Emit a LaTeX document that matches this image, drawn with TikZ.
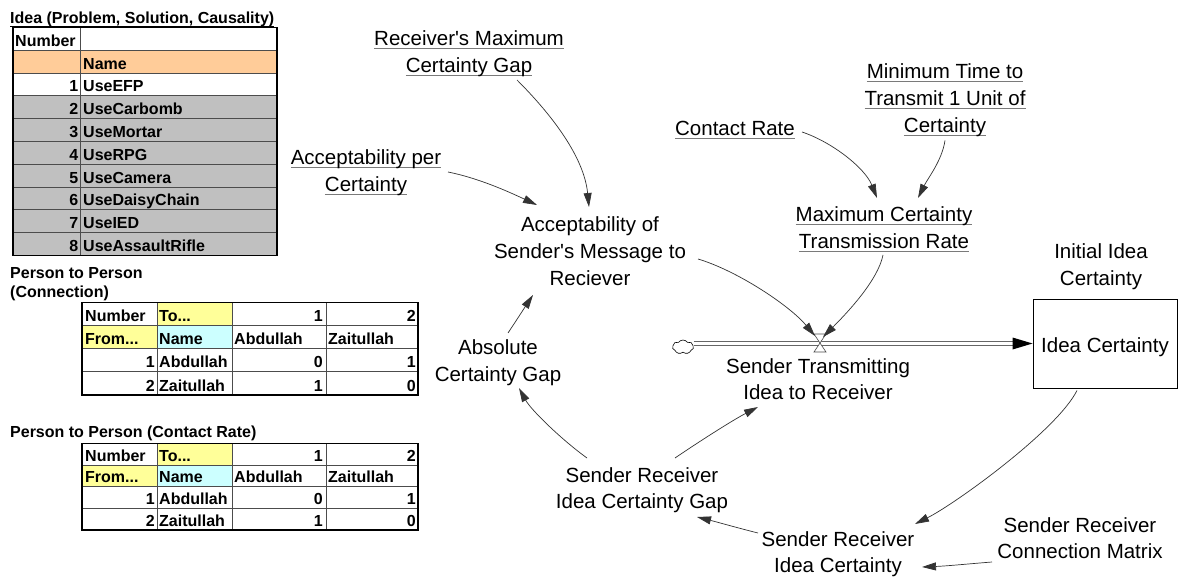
\documentclass[tikz,border=0pt]{standalone}
\usepackage{fontspec}
\setmainfont{Liberation Sans}[Ligatures=TeXOff]
\usetikzlibrary{arrows.meta,shapes.symbols}

\definecolor{hdrorange}{HTML}{FFCC99}
\definecolor{rowgray}{HTML}{C0C0C0}
\definecolor{celly}{HTML}{FFFF99}
\definecolor{cellc}{HTML}{CCFFFF}
\definecolor{ulgray}{HTML}{7A7A7A}

% text with a rule under it (colour, text)
\newcommand\ulinetext[2]{\setbox0\hbox{#2}\rlap{\color{#1}\rule[-3.5pt]{\wd0}{1pt}}\box0}
\newcommand\gul[1]{\ulinetext{ulgray}{#1}}

\tikzset{
  lbl/.style={font=\fontsize{20.5}{26.8}\selectfont, align=center, anchor=base, inner sep=0pt},
  tab/.style={font=\fontsize{16}{18}\selectfont\bfseries, inner sep=0pt, anchor=base west},
  tabr/.style={tab, anchor=base east},
  gridline/.style={draw=black!70, line width=1pt},
  frame/.style={draw=black, line width=1.6pt},
  link/.style={draw=black!80, line width=0.7pt, -{Triangle[length=14pt,width=8pt]}},
  pipe/.style={draw=black!60, line width=1.1pt, double=white, double distance=3.6pt},
  stock/.style={draw=black, line width=0.9pt, minimum width=144pt, minimum height=89pt,
    inner sep=0pt, text height=23pt, font=\fontsize{20.5}{26.8}\selectfont},
  valvestyle/.style={fill=white, draw=black!70, line width=0.6pt},
}

\begin{document}
\begin{tikzpicture}[x=1pt,y=-1pt]
\fill[white] (0,0) rectangle (1178,577);
\useasboundingbox (0,0) rectangle (1178,577);

% ---------- table: ideas ----------
\node[tab] (t1title) at (10,24) {\ulinetext{black}{Idea (Problem, Solution, Causality)}};
\fill[hdrorange] (12.7,50.3) rectangle (277,73.1);
\fill[rowgray] (12.7,95.9) rectangle (277,255.5);
\foreach \k in {1,...,9} \draw[gridline] (12.7,{27.5+22.8*\k}) -- (277,{27.5+22.8*\k});
\draw[gridline] (80,27.5) -- (80,255.5);
\draw[frame] (12.7,27.5) rectangle (277,255.5);
\node[tab] (t1num) at (15,46.3) {Number};
\node[tab] (t1name) at (83,69.1) {Name};
\foreach \i/\n in {1/UseEFP,2/UseCarbomb,3/UseMortar,4/UseRPG,5/UseCamera,6/UseDaisyChain,7/UseIED,8/UseAssaultRifle}{
  \node[tabr] (t1i\i) at (78.5,{27.5+22.8*(\i+2)-4}) {\i};
  \node[tab] (t1n\i) at (83,{27.5+22.8*(\i+2)-4}) {\n};
}

% ---------- tables: person to person ----------
\node[tab, align=left] (t2title) at (10,298) {Person to Person\\[1pt](Connection)};
\node[tab] (t3title) at (10,437) {Person to Person (Contact Rate)};
\foreach \tb/\top/\h in {c/302.7/23.08, r/443.3/21.7}{
  \pgfmathsetmacro\ya{\top+\h}
  \pgfmathsetmacro\yb{\top+2*\h}
  \pgfmathsetmacro\yc{\top+3*\h}
  \pgfmathsetmacro\yd{\top+4*\h}
  \fill[celly] (157,\top) rectangle (232,\ya);
  \fill[celly] (82,\ya) rectangle (157,\yb);
  \fill[cellc] (157,\ya) rectangle (232,\yb);
  \foreach \yy in {\ya,\yb,\yc} \draw[gridline] (82,\yy) -- (418,\yy);
  \foreach \xx in {157,232,326} \draw[gridline] (\xx,\top) -- (\xx,\yd);
  \draw[frame] (82,\top) rectangle (418,\yd);
  \node[tab]  (\tb num)  at (85,\ya-4) {Number};
  \node[tab]  (\tb to)   at (159,\ya-4) {To...};
  \node[tabr] (\tb ha)   at (323,\ya-4) {1};
  \node[tabr] (\tb hb)   at (416,\ya-4) {2};
  \node[tab]  (\tb from) at (85,\yb-4) {From...};
  \node[tab]  (\tb name) at (159,\yb-4) {Name};
  \node[tab]  (\tb ca)   at (234,\yb-4) {Abdullah};
  \node[tab]  (\tb cb)   at (328,\yb-4) {Zaitullah};
  \node[tabr] (\tb ra)   at (155,\yc-4) {1};
  \node[tab]  (\tb rna)  at (159,\yc-4) {Abdullah};
  \node[tabr] (\tb aa)   at (323,\yc-4) {0};
  \node[tabr] (\tb ab)   at (416,\yc-4) {1};
  \node[tabr] (\tb rb)   at (155,\yd-4) {2};
  \node[tab]  (\tb rnb)  at (159,\yd-4) {Zaitullah};
  \node[tabr] (\tb ba)   at (323,\yd-4) {1};
  \node[tabr] (\tb bb)   at (416,\yd-4) {0};
}

% ---------- stock and flow (each label sits on the baseline of its last line) ----------
\node[lbl] (rmax) at (469,72.8) {\gul{Receiver's Maximum}\\\gul{Certainty Gap}};
\node[lbl] (accper) at (366,191.8) {\gul{Acceptability per}\\\gul{Certainty}};
\node[lbl] (accof) at (590,285.6) {Acceptability of\\Sender's Message to\\Reciever};
\node[lbl] (contact) at (735,136) {\gul{Contact Rate}};
\node[lbl] (mintime) at (945,132.1) {\gul{Minimum Time to}\\\gul{Transmit 1 Unit of}\\\gul{Certainty}};
\node[lbl] (maxcert) at (884,248.8) {\gul{Maximum Certainty}\\\gul{Transmission Rate}};
\node[lbl] (initial) at (1101,285.8) {Initial Idea\\Certainty};
\node[stock] (ideacert) at (1105,343.5) {Idea Certainty};
\node[lbl] (sendtrans) at (818,399.8) {Sender Transmitting\\Idea to Receiver};
\node[lbl] (absgap) at (498,381.8) {Absolute\\Certainty Gap};
\node[lbl] (srgap) at (642,508.8) {Sender Receiver\\Idea Certainty Gap};
\node[lbl] (sric) at (838,572.8) {Sender Receiver\\Idea Certainty};
\node[lbl] (conn) at (1080,558.8) {Sender Receiver\\Connection Matrix};

% source cloud, pipe and valve
\node[cloud, draw, cloud puffs=7, cloud puff arc=110, aspect=1.5, minimum width=21pt,
      minimum height=14pt, inner sep=0pt, line width=0.6pt] (cloud) at (683,347) {};
\draw[pipe] (cloud.east |- ideacert.west) -- ([xshift=-19pt]ideacert.west);
\fill[black] (ideacert.west) -- ++(-20,-6) -- ++(0,12) -- cycle;
\coordinate (valve) at (820,343);
\filldraw[valvestyle] ([shift={(-6,-9)}]valve) -- ([shift={(6,-9)}]valve)
  -- ([shift={(-6,9)}]valve) -- ([shift={(6,9)}]valve) -- cycle;

% causal links
\draw[link] ([shift={(48,7.2)}]rmax.base) .. controls +(35,35) and +(-5,-50) .. ([shift={(-1,-78.6)}]accof.base);
\draw[link] ([shift={(82,-19.8)}]accper.base) .. controls +(30,6) and +(-30,-14) .. ([shift={(-53,-80.6)}]accof.base);
\draw[link] ([shift={(108,-26.6)}]accof.base) .. controls +(40,12) and +(-25,-30) .. ([shift={(-5,-7)}]valve);
\draw[link] ([shift={(67,-4)}]contact.base) .. controls +(30,10) and +(-12,-30) .. ([shift={(-7,-50.8)}]maxcert.base);
\draw[link] ([shift={(0,8.4)}]mintime.base) .. controls +(-3,20) and +(10,-20) .. ([shift={(34,-50.8)}]maxcert.base);
\draw[link] ([shift={(-1,6.2)}]maxcert.base) .. controls +(-5,25) and +(25,-25) .. ([shift={(3,-6)}]valve);
\draw[link] ([shift={(-28,2)}]ideacert.south) .. controls +(-20,40) and +(40,-20) .. ([shift={(77,-48.8)}]sric.base);
\draw[link] ([shift={(-88,3.2)}]conn.base) .. controls +(-25,2) and +(25,-1) .. ([shift={(84,-5.8)}]sric.base);
\draw[link] ([shift={(-80,-39.8)}]sric.base) .. controls +(-20,-5) and +(20,5) .. ([shift={(55,8.2)}]srgap.base);
\draw[link] ([shift={(33,-50.8)}]srgap.base) .. controls +(25,-17) and +(-25,13) .. ([shift={(-60,7.2)}]sendtrans.base);
\draw[link] ([shift={(-55,-50.8)}]srgap.base) .. controls +(-25,-18) and +(12,22) .. ([shift={(21,6.2)}]absgap.base);
\draw[link] ([shift={(10,-48.8)}]absgap.base) .. controls +(8,-12) and +(-8,12) .. ([shift={(-57,9.4)}]accof.base);
\end{tikzpicture}
\end{document}
